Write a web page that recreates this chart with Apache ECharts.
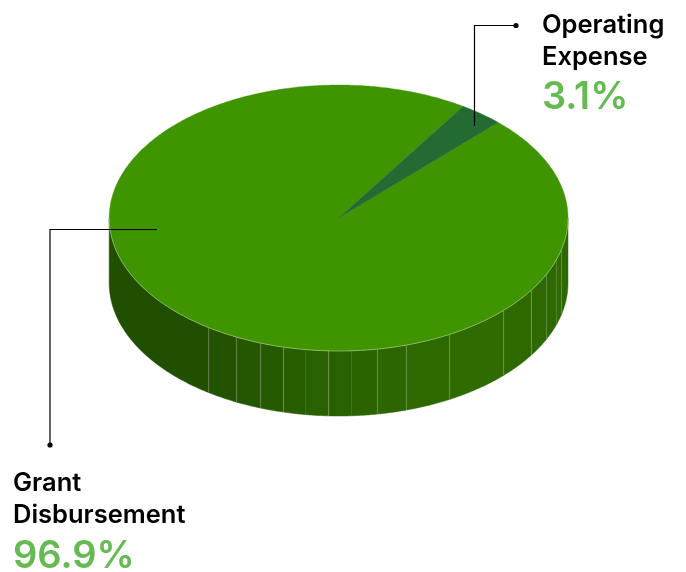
<!DOCTYPE html>
<html><head><meta charset="utf-8">
<style>html,body{margin:0;padding:0;background:#fff}#c{width:686px;height:572px}</style>
<script src="https://cdn.jsdelivr.net/npm/echarts@6/dist/echarts.min.js"></script>
</head><body><div id="c"></div>
<script>
const categories = ['Grant Disbursement', 'Operating Expense'];
const values = [96.9, 3.1];
const sliceColors = ['#3f9500', '#236b33'];
const rimAngles = [90, 103.6, 108.2, 115, 122.8, 134, 151.1, 162.8, 170.2, 176.8, 182.5, 188.3, 193.9, 199.9, 206.4, 214.5, 270];
const rimColors = ['#2e6800','#2f6a00','#2e6900','#2e6800','#2e6900','#2f6b00','#2e6900','#2d6600','#2b6300','#2a6100','#296000','#285d00','#265a00','#255700','#235300','#204f00'];
const rimLineAlpha = [0.22,0.14,0.18,0.25,0.25,0.25,0.25,0.25,0.06,0.28,0.06,0.28,0.25,0.25,0.25];

const CX = 338.6, CY = 218, RX = 229.4, RY = 133, DEPTH = 65, START = 32.9;
const pt = (deg, dy) => {
  const r = deg * Math.PI / 180;
  return [CX + RX * Math.sin(r), CY - RY * Math.cos(r) + (dy || 0)];
};
const arc = (a, b, dy) => {
  const n = Math.max(2, Math.ceil(Math.abs(b - a) * 2)), out = [];
  for (let i = 0; i <= n; i++) out.push(pt(a + (b - a) * i / n, dy));
  return out;
};
const total = values.reduce((s, v) => s + v, 0);
const toDeg = v => v / total * 360;

function renderItem(params, api) {
  const i = params.dataIndex, children = [];
  const span = toDeg(api.value(0));
  let a0, a1;
  if (i === 1) { a0 = START; a1 = START + span; }
  else { a0 = START + toDeg(values[1]); a1 = a0 + span; }
  if (i === 0) {
    rimColors.forEach((col, k) => {
      const t = arc(rimAngles[k], rimAngles[k + 1], 0);
      const b = arc(rimAngles[k + 1], rimAngles[k], DEPTH);
      children.push({type:'polygon', shape:{points:t.concat(b)}, style:{fill:col, stroke:col, lineWidth:0.5}});
    });
    rimAngles.slice(1, -1).forEach((a, k) => {
      children.push({type:'polyline', shape:{points:[pt(a,0), pt(a,DEPTH)]},
        style:{stroke:'rgba(255,255,255,'+rimLineAlpha[k]+')', lineWidth:1, fill:null}});
    });
  }
  children.push({type:'polygon', shape:{points:[[CX,CY]].concat(arc(a0,a1,0))},
    style:{fill:api.visual('color'), stroke:api.visual('color'), lineWidth:0.4}});
  if (i === 0) {
    children.push({type:'polyline', shape:{points:arc(90,270,0)},
      style:{stroke:'rgba(255,255,255,0.35)', lineWidth:1, fill:null}});
  }
  return {type:'group', children};
}

const ink = '#000';
const leader = pts => ({type:'polyline', silent:true, z:10, shape:{points:pts}, style:{stroke:ink, lineWidth:1.2, fill:null}});
const dot = (x, y) => ({type:'circle', silent:true, z:10, shape:{cx:x, cy:y, r:2.6}, style:{fill:ink}});
const txt = (x, y, s, size, col, w) => ({type:'text', silent:true, z:10, x, y,
  style:{text:s, fontFamily:'Inter', fontSize:size, fontWeight:w, fill:col, verticalAlign:'bottom', align:'left'}});
const pct = v => v.toFixed(1) + '%';

const chart = echarts.init(document.getElementById('c'), null, {renderer:'canvas'});
chart.setOption({
  animation:false,
  series:[{type:'custom', coordinateSystem:'none', renderItem,
    data: values.map((v,i)=>({name:categories[i], value:[v], itemStyle:{color:sliceColors[i]}}))}],
  graphic:[
    leader([[516,25.5],[474.5,25.5],[474.5,126]]), dot(516,25.5),
    leader([[50,445],[50,229.5],[157,229.5]]), dot(50,445),
    txt(542,38,'Operating',25.5,ink,600),
    txt(542,70,'Expense',25.5,ink,600),
    txt(542,117,pct(values[1]),38,'#65bb51',600),
    txt(13,496,'Grant',25.5,ink,600),
    txt(13,528,'Disbursement',25.5,ink,600),
    txt(13,576,pct(values[0]),38,'#65bb51',600)
  ]
});
</script></body></html>
